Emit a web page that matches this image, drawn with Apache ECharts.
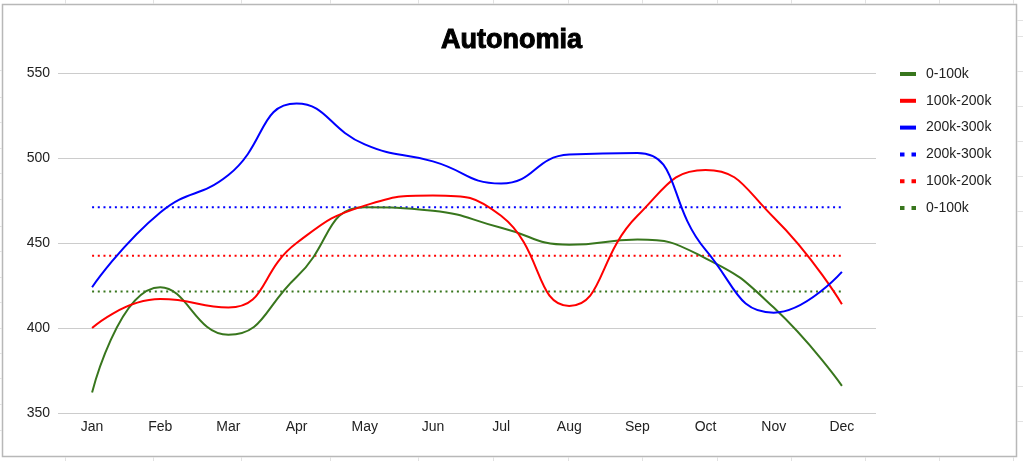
<!DOCTYPE html>
<html>
<head>
<meta charset="utf-8">
<script src="https://cdn.jsdelivr.net/npm/echarts@6/dist/echarts.min.js"></script>
<style>
  html, body { margin: 0; padding: 0; background: #ffffff; }
  #chart { width: 1023px; height: 461px; }
</style>
</head>
<body>
<div id="chart"></div>
<script>
// ---- data ----
const months = ['Jan', 'Feb', 'Mar', 'Apr', 'May', 'Jun', 'Jul', 'Aug', 'Sep', 'Oct', 'Nov', 'Dec'];
const band0to100 = [362, 424, 396, 430, 471, 469, 459, 449, 452, 441, 412, 366];
const band100to200 = [400, 417, 412, 450, 472, 478, 466, 413, 466, 493, 465, 414];
const band200to300 = [424, 468, 490, 532, 508, 498, 485, 502, 503, 446, 409, 433];
const ref200to300 = [471, 471, 471, 471, 471, 471, 471, 471, 471, 471, 471, 471];
const ref100to200 = [442.5, 442.5, 442.5, 442.5, 442.5, 442.5, 442.5, 442.5, 442.5, 442.5, 442.5, 442.5];
const ref0to100 = [421.5, 421.5, 421.5, 421.5, 421.5, 421.5, 421.5, 421.5, 421.5, 421.5, 421.5, 421.5];
const yTicks = { min: 350, max: 550, interval: 50 };
const titleText = 'Autonomia';

// ---- styles ----
const GREEN = '#38761d', RED = '#ff0000', BLUE = '#0000ff';
const FONT = '"Liberation Sans", Arial, sans-serif';
const DOTS = [2, 3.7];
const SUFFIX = ' (ref)';

const chart = echarts.init(document.getElementById('chart'), null, { renderer: 'canvas' });

function solid(name, data, color) {
  return {
    name: name, type: 'line', data: data, smooth: 0.5,
    showSymbol: false, symbol: 'none', z: 3,
    lineStyle: { color: color, width: 2 }, itemStyle: { color: color },
    emphasis: { disabled: true }
  };
}
function dotted(name, data, color) {
  return {
    name: name + SUFFIX, type: 'line', data: data,
    showSymbol: false, symbol: 'none', z: 2,
    lineStyle: { color: color, width: 2, type: DOTS }, itemStyle: { color: color },
    emphasis: { disabled: true }
  };
}

const dotIcon = 'path://M0,0H4.5V4H0Z M11.5,0H16V4H11.5Z';

// faint spreadsheet grid outside the chart frame
const bgLines = [];
[65, 153, 241, 330, 418, 493, 568, 642, 717, 791, 865, 939, 1013].forEach(function (x) {
  bgLines.push({ type: 'line', shape: { x1: x + 0.5, y1: 0, x2: x + 0.5, y2: 4 }, style: { stroke: '#e2e2e2', lineWidth: 1 }, silent: true });
  bgLines.push({ type: 'line', shape: { x1: x + 0.5, y1: 457, x2: x + 0.5, y2: 461 }, style: { stroke: '#e2e2e2', lineWidth: 1 }, silent: true });
});
[20, 36, 71, 106, 141, 176, 211, 246, 281, 316, 351, 386, 421].forEach(function (y) {
  bgLines.push({ type: 'line', shape: { x1: 1017, y1: y + 0.5, x2: 1023, y2: y + 0.5 }, style: { stroke: '#e2e2e2', lineWidth: 1 }, silent: true });
});
[70, 97, 122, 148, 173, 199, 226, 251, 277, 302, 328, 353, 378, 404, 430].forEach(function (y) {
  bgLines.push({ type: 'line', shape: { x1: 0, y1: y + 0.5, x2: 2, y2: y + 0.5 }, style: { stroke: '#e2e2e2', lineWidth: 1 }, silent: true });
});
bgLines.push({
  type: 'rect', shape: { x: 2.5, y: 4.5, width: 1014, height: 452 },
  style: { fill: 'none', stroke: '#b8b8b8', lineWidth: 1.5 }, silent: true, z: -1
});

const option = {
  backgroundColor: '#ffffff',
  animation: false,
  title: {
    text: titleText, left: 'center', top: 22,
    textStyle: {
      fontFamily: FONT, fontSize: 27, fontWeight: 'bold', color: '#000',
      textBorderColor: '#000', textBorderWidth: 1
    }
  },
  graphic: bgLines,
  legend: {
    orient: 'vertical', left: 900, top: 66, padding: 0,
    itemWidth: 16, itemHeight: 4, itemGap: 10.8,
    formatter: function (n) { return n.replace(SUFFIX, ''); },
    textStyle: { fontFamily: FONT, fontSize: 14, color: '#222', padding: [0, 0, 0, 5], lineHeight: 16 },
    data: [
      { name: '0-100k', icon: 'rect' },
      { name: '100k-200k', icon: 'rect' },
      { name: '200k-300k', icon: 'rect' },
      { name: '200k-300k' + SUFFIX, icon: dotIcon },
      { name: '100k-200k' + SUFFIX, icon: dotIcon },
      { name: '0-100k' + SUFFIX, icon: dotIcon }
    ],
    selectedMode: false
  },
  grid: { left: 58, right: 147, top: 73, bottom: 48, containLabel: false },
  xAxis: {
    type: 'category', data: months, boundaryGap: true,
    axisLine: { show: false }, axisTick: { show: false },
    axisLabel: { fontFamily: FONT, fontSize: 14, color: '#222', margin: 7 }
  },
  yAxis: {
    type: 'value', min: yTicks.min, max: yTicks.max, interval: yTicks.interval,
    axisLine: { show: false }, axisTick: { show: false },
    splitLine: { lineStyle: { color: '#cccccc', width: 1 } },
    axisLabel: { fontFamily: FONT, fontSize: 14, color: '#222', margin: 8 }
  },
  series: [
    dotted('200k-300k', ref200to300, BLUE),
    dotted('100k-200k', ref100to200, RED),
    dotted('0-100k', ref0to100, GREEN),
    solid('0-100k', band0to100, GREEN),
    solid('100k-200k', band100to200, RED),
    solid('200k-300k', band200to300, BLUE)
  ]
};
chart.setOption(option);
</script>
</body>
</html>
